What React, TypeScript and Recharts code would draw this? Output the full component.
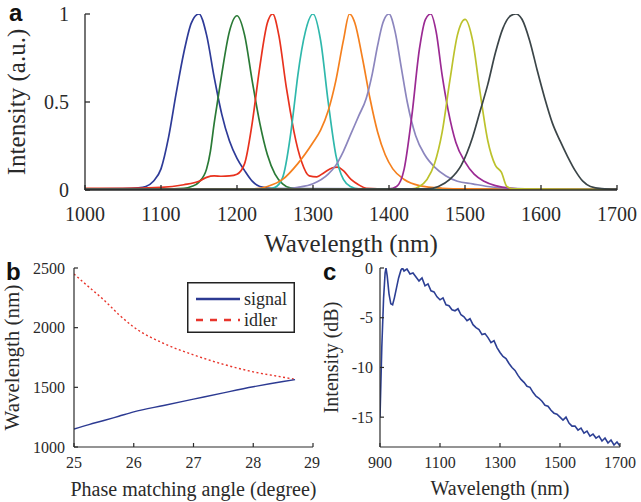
import React from "react";
import { LineChart, Line, XAxis, YAxis } from "recharts";

const SERIF = 'Tinos, "Liberation Serif", "Times New Roman", Times, "Nimbus Roman", "Noto Serif", "DejaVu Serif", FreeSerif, serif';
const SANS = '"Liberation Sans", Arial, sans-serif';
const INK = "#2a2a2a";

// (a) normalized output spectra: [wavelength nm, intensity a.u.]
const spec1150 = [
  [1000, 0.006], [1050, 0.008], [1070, 0.012], [1080, 0.02], [1090, 0.05], [1100, 0.12],
  [1110, 0.3], [1120, 0.55], [1130, 0.78], [1140, 0.95], [1150, 1.0], [1160, 0.88],
  [1170, 0.64], [1175, 0.53], [1180, 0.43], [1190, 0.28], [1200, 0.18], [1210, 0.11],
  [1220, 0.05], [1230, 0.02], [1250, 0.008], [1400, 0.006], [1700, 0.005],
];
const spec1200 = [
  [1000, 0.004], [1100, 0.006], [1130, 0.01], [1140, 0.02], [1150, 0.045], [1160, 0.12],
  [1165, 0.22], [1170, 0.38], [1175, 0.52], [1180, 0.66], [1190, 0.9], [1200, 0.99],
  [1210, 0.88], [1220, 0.62], [1230, 0.38], [1240, 0.2], [1250, 0.09], [1260, 0.035],
  [1270, 0.012], [1290, 0.006], [1700, 0.004],
];
const spec1250 = [
  [1000, 0.01], [1050, 0.01], [1100, 0.015], [1130, 0.03], [1150, 0.05], [1160, 0.072],
  [1170, 0.08], [1180, 0.078], [1190, 0.08], [1200, 0.09], [1210, 0.15], [1220, 0.38],
  [1230, 0.7], [1240, 0.95], [1247, 1.0], [1255, 0.88], [1265, 0.58], [1270, 0.45],
  [1275, 0.33], [1285, 0.16], [1295, 0.08], [1305, 0.075], [1315, 0.1], [1325, 0.125],
  [1332, 0.13], [1340, 0.11], [1350, 0.06], [1360, 0.03], [1370, 0.01], [1400, 0.006],
  [1700, 0.005],
];
const spec1300 = [
  [1000, 0.004], [1240, 0.006], [1250, 0.015], [1260, 0.07], [1270, 0.3], [1275, 0.47],
  [1280, 0.65], [1290, 0.9], [1300, 1.0], [1310, 0.85], [1320, 0.5], [1330, 0.2],
  [1340, 0.06], [1350, 0.018], [1360, 0.006], [1700, 0.004],
];
const spec1350 = [
  [1000, 0.004], [1220, 0.006], [1240, 0.02], [1260, 0.06], [1280, 0.15], [1300, 0.27],
  [1310, 0.34], [1320, 0.45], [1330, 0.62], [1340, 0.85], [1348, 1.0], [1355, 0.95],
  [1365, 0.75], [1375, 0.52], [1385, 0.33], [1395, 0.2], [1405, 0.12], [1420, 0.06],
  [1440, 0.025], [1470, 0.01], [1500, 0.006], [1700, 0.004],
];
const spec1400 = [
  [1000, 0.005], [1260, 0.006], [1280, 0.015], [1300, 0.035], [1320, 0.09], [1330, 0.14],
  [1340, 0.22], [1350, 0.32], [1360, 0.42], [1370, 0.52], [1378, 0.66], [1385, 0.82],
  [1392, 0.95], [1400, 1.0], [1408, 0.9], [1416, 0.7], [1424, 0.5], [1435, 0.31],
  [1447, 0.2], [1460, 0.13], [1475, 0.08], [1490, 0.05], [1510, 0.035], [1530, 0.02],
  [1560, 0.01], [1600, 0.006], [1700, 0.005],
];
const spec1455 = [
  [1000, 0.004], [1400, 0.006], [1410, 0.02], [1420, 0.12], [1430, 0.42], [1440, 0.8],
  [1448, 0.97], [1455, 1.0], [1462, 0.9], [1470, 0.65], [1478, 0.45], [1488, 0.27],
  [1500, 0.16], [1512, 0.09], [1525, 0.05], [1540, 0.025], [1560, 0.01], [1580, 0.006],
  [1700, 0.004],
];
const spec1500 = [
  [1000, 0.004], [1430, 0.006], [1440, 0.02], [1450, 0.06], [1460, 0.15], [1470, 0.33],
  [1480, 0.62], [1490, 0.88], [1500, 0.97], [1510, 0.85], [1520, 0.55], [1530, 0.28],
  [1540, 0.14], [1548, 0.1], [1555, 0.02], [1565, 0.006], [1700, 0.004],
];
const spec1570 = [
  [1000, 0.005], [1450, 0.006], [1465, 0.02], [1480, 0.06], [1495, 0.14], [1510, 0.3],
  [1520, 0.45], [1530, 0.6], [1540, 0.78], [1550, 0.92], [1560, 0.99], [1567, 1.0],
  [1575, 0.97], [1585, 0.85], [1595, 0.68], [1605, 0.52], [1615, 0.38], [1625, 0.28],
  [1635, 0.19], [1645, 0.11], [1655, 0.05], [1665, 0.02], [1680, 0.008], [1700, 0.005],
];

const spectraA = [
  { id: "s1150", color: "#2e3b98", pts: spec1150 },
  { id: "s1200", color: "#2a7a36", pts: spec1200 },
  { id: "s1250", color: "#e8321e", pts: spec1250 },
  { id: "s1300", color: "#2fb8ac", pts: spec1300 },
  { id: "s1350", color: "#f5801e", pts: spec1350 },
  { id: "s1400", color: "#8c86be", pts: spec1400 },
  { id: "s1455", color: "#9b2a93", pts: spec1455 },
  { id: "s1500", color: "#bcc22c", pts: spec1500 },
  { id: "s1570", color: "#3b4548", pts: spec1570 },
];
const ticksAx = [1000, 1100, 1200, 1300, 1400, 1500, 1600, 1700];
const ticksAy = [0, 0.5, 1];

// (b) tuning curve
const angleB = [25, 25.25, 25.5, 25.75, 26, 26.5, 27, 27.5, 28, 28.5, 28.7];
const signalB = [1150, 1188, 1222, 1258, 1294, 1348, 1401, 1454, 1505, 1549, 1565];
const idlerB = [2450, 2340, 2232, 2110, 2005, 1868, 1772, 1693, 1630, 1585, 1567];
const ticksBx = [25, 26, 27, 28, 29];
const ticksBy = [1000, 1500, 2000, 2500];

// (c) supercontinuum spectrum, dB
const wavelengthC = [
  900, 906, 912, 917, 920, 924, 930, 936, 942, 948, 955, 962, 970, 975,
  980, 990, 1000, 1010, 1020, 1030, 1040, 1050, 1060, 1070, 1080, 1090, 1100,
  1110, 1120, 1130, 1140, 1150, 1160, 1170, 1180, 1190, 1200, 1210, 1220, 1230,
  1240, 1250, 1260, 1270, 1280, 1290, 1300, 1310, 1320, 1330, 1340, 1350, 1360,
  1370, 1380, 1390, 1400, 1410, 1420, 1430, 1440, 1450, 1460, 1470, 1480, 1490,
  1500, 1510, 1520, 1530, 1540, 1550, 1560, 1570, 1580, 1590, 1600, 1610, 1620,
  1630, 1640, 1650, 1660, 1670, 1680, 1690, 1700,
];
const intensityC = [
  -15, -8, -3, -0.5, 0, -0.8, -2.6, -3.6, -3.7, -3.0, -2.0, -1.0, -0.2, 0,
  -0.3, -0.1, -0.6, -0.5, -0.9, -1.3, -1.0, -1.8, -1.6, -2.3, -2.4, -2.9, -3.2,
  -3.0, -3.7, -3.8, -4.2, -4.3, -4.1, -4.7, -4.9, -5.3, -5.1, -5.7, -6.0, -6.2,
  -6.7, -6.6, -7.0, -7.5, -7.3, -8.0, -8.5, -8.9, -9.1, -9.6, -10.0, -10.3, -10.8,
  -11.2, -11.5, -11.9, -12.0, -12.5, -12.9, -13.1, -13.4, -13.8, -13.9, -14.3, -14.6, -14.7,
  -15.0, -15.3, -15.0, -15.6, -15.9, -15.9, -16.3, -16.1, -16.6, -16.4, -16.9, -16.7, -17.1,
  -16.9, -17.4, -17.1, -17.6, -17.3, -17.8, -17.5, -17.9,
];
const ticksCx = [900, 1100, 1300, 1500, 1700];
const ticksCy = [-15, -10, -5, 0];

const toXY = (pts: number[][]) => pts.map(([x, y]) => ({ x, y }));
const dataB = angleB.map((a, i) => ({ a, signal: signalB[i], idler: idlerB[i] }));
const dataC = wavelengthC.map((w, i) => ({ w, db: intensityC[i] }));

const blank = () => "";

function Letter({ text, left, top }: { text: string; left: number; top: number }) {
  return (
    <div
      style={{
        position: "absolute",
        left,
        top,
        fontFamily: SANS,
        fontWeight: 700,
        fontSize: 24,
        lineHeight: "24px",
        color: "#111",
      }}
    >
      {text}
    </div>
  );
}

export default function App() {
  const tickA = { fontSize: 20, fill: INK, fontFamily: SERIF };
  const tickBC = { fontSize: 16, fill: INK, fontFamily: SERIF };
  const title = (size: number) => ({ fontSize: size, fill: INK, fontFamily: SERIF });

  return (
    <div style={{ position: "absolute", left: 0, top: 0, width: 641, height: 502, background: "#fff", fontFamily: SERIF }}>
      {/* panel a */}
      <div style={{ position: "absolute", left: 0, top: 0 }}>
        <LineChart width={641} height={260} margin={{ top: 14, right: 24, bottom: 0, left: 0 }}>
          <XAxis
            dataKey="x"
            type="number"
            domain={[1000, 1700]}
            ticks={ticksAx}
            allowDataOverflow
            height={70}
            stroke={INK}
            strokeWidth={1.3}
            tickSize={-5}
            tickMargin={22}
            tick={tickA}
            label={{ value: "Wavelength (nm)", position: "center", dy: 18, ...title(25) }}
          />
          <XAxis
            xAxisId="top"
            orientation="top"
            dataKey="x"
            type="number"
            domain={[1000, 1700]}
            ticks={ticksAx}
            height={0}
            stroke={INK}
            strokeWidth={1.3}
            tickSize={-5}
            tickFormatter={blank}
          />
          <YAxis
            type="number"
            domain={[0, 1]}
            ticks={ticksAy}
            allowDataOverflow
            width={85}
            stroke={INK}
            strokeWidth={1.3}
            tickSize={-5}
            tickMargin={21}
            tick={tickA}
            label={{ value: "Intensity (a.u.)", position: "center", angle: -90, dx: -26, ...title(25) }}
          />
          <YAxis
            yAxisId="right"
            orientation="right"
            type="number"
            domain={[0, 1]}
            ticks={ticksAy}
            width={0}
            stroke={INK}
            strokeWidth={1.3}
            tickSize={-5}
            tickFormatter={blank}
          />
          {spectraA.map((s) => (
            <Line
              key={s.id}
              data={toXY(s.pts)}
              dataKey="y"
              type="monotone"
              stroke={s.color}
              strokeWidth={1.7}
              dot={false}
              isAnimationActive={false}
            />
          ))}
        </LineChart>
      </div>
      <Letter text="a" left={9} top={1} />

      {/* panel b */}
      <div style={{ position: "absolute", left: 0, top: 250 }}>
        <LineChart width={320} height={252} data={dataB} margin={{ top: 18, right: 7, bottom: 0, left: 0 }}>
          <XAxis
            dataKey="a"
            type="number"
            domain={[25, 29]}
            ticks={ticksBx}
            allowDataOverflow
            height={55}
            stroke={INK}
            strokeWidth={1.2}
            tickSize={-4}
            tickMargin={14}
            tick={tickBC}
            label={{ value: "Phase matching angle (degree)", position: "center", dy: 14.5, ...title(20) }}
          />
          <XAxis
            xAxisId="top"
            orientation="top"
            dataKey="a"
            type="number"
            domain={[25, 29]}
            ticks={ticksBx}
            height={0}
            stroke={INK}
            strokeWidth={1.2}
            tickSize={-4}
            tickFormatter={blank}
          />
          <YAxis
            type="number"
            domain={[1000, 2500]}
            ticks={ticksBy}
            allowDataOverflow
            width={74}
            stroke={INK}
            strokeWidth={1.2}
            tickSize={-4}
            tickMargin={13}
            tick={tickBC}
            label={{ value: "Wavelength (nm)", position: "center", angle: -90, dx: -25, ...title(21) }}
          />
          <YAxis
            yAxisId="right"
            orientation="right"
            type="number"
            domain={[1000, 2500]}
            ticks={ticksBy}
            width={0}
            stroke={INK}
            strokeWidth={1.2}
            tickSize={-4}
            tickFormatter={blank}
          />
          <Line dataKey="idler" type="monotone" stroke="#e8352c" strokeWidth={1.4} strokeDasharray="2 2.5" dot={false} isAnimationActive={false} />
          <Line dataKey="signal" type="monotone" stroke="#2c3a92" strokeWidth={1.4} dot={false} isAnimationActive={false} />
        </LineChart>
      </div>
      <svg style={{ position: "absolute", left: 187, top: 282 }} width={108} height={51}>
        <rect x={0.75} y={0.75} width={106.5} height={49.5} fill="#fff" stroke="#222" strokeWidth={1.5} />
        <line x1={9} y1={17} x2={53} y2={17} stroke="#2c3a92" strokeWidth={2.6} />
        <text x={57} y={23} fontSize={18} fill={INK} fontFamily={SERIF}>signal</text>
        <line x1={9} y1={38} x2={53} y2={38} stroke="#e8352c" strokeWidth={2.6} strokeDasharray="7 7" />
        <text x={57} y={44} fontSize={18} fill={INK} fontFamily={SERIF}>idler</text>
      </svg>
      <Letter text="b" left={6} top={260} />

      {/* panel c */}
      <div style={{ position: "absolute", left: 320, top: 250 }}>
        <LineChart width={321} height={252} data={dataC} margin={{ top: 18, right: 21, bottom: 0, left: 0 }}>
          <XAxis
            dataKey="w"
            type="number"
            domain={[900, 1700]}
            ticks={ticksCx}
            allowDataOverflow
            height={55}
            stroke={INK}
            strokeWidth={1.2}
            tickSize={-4}
            tickMargin={14}
            tick={tickBC}
            label={{ value: "Wavelength (nm)", position: "center", dy: 13.5, ...title(20) }}
          />
          <XAxis
            xAxisId="top"
            orientation="top"
            dataKey="w"
            type="number"
            domain={[900, 1700]}
            ticks={ticksCx}
            height={0}
            stroke={INK}
            strokeWidth={1.2}
            tickSize={-4}
            tickFormatter={blank}
          />
          <YAxis
            type="number"
            domain={[-18, 0]}
            ticks={ticksCy}
            allowDataOverflow
            width={60}
            stroke={INK}
            strokeWidth={1.2}
            tickSize={-4}
            tickMargin={11}
            tick={tickBC}
            label={{ value: "Intensity (dB)", position: "center", angle: -90, dx: -19, ...title(20) }}
          />
          <YAxis
            yAxisId="right"
            orientation="right"
            type="number"
            domain={[-18, 0]}
            ticks={ticksCy}
            width={0}
            stroke={INK}
            strokeWidth={1.2}
            tickSize={-4}
            tickFormatter={blank}
          />
          <Line dataKey="db" type="linear" stroke="#2c3f94" strokeWidth={1.6} dot={false} isAnimationActive={false} />
        </LineChart>
      </div>
      <Letter text="c" left={323} top={260} />
    </div>
  );
}
